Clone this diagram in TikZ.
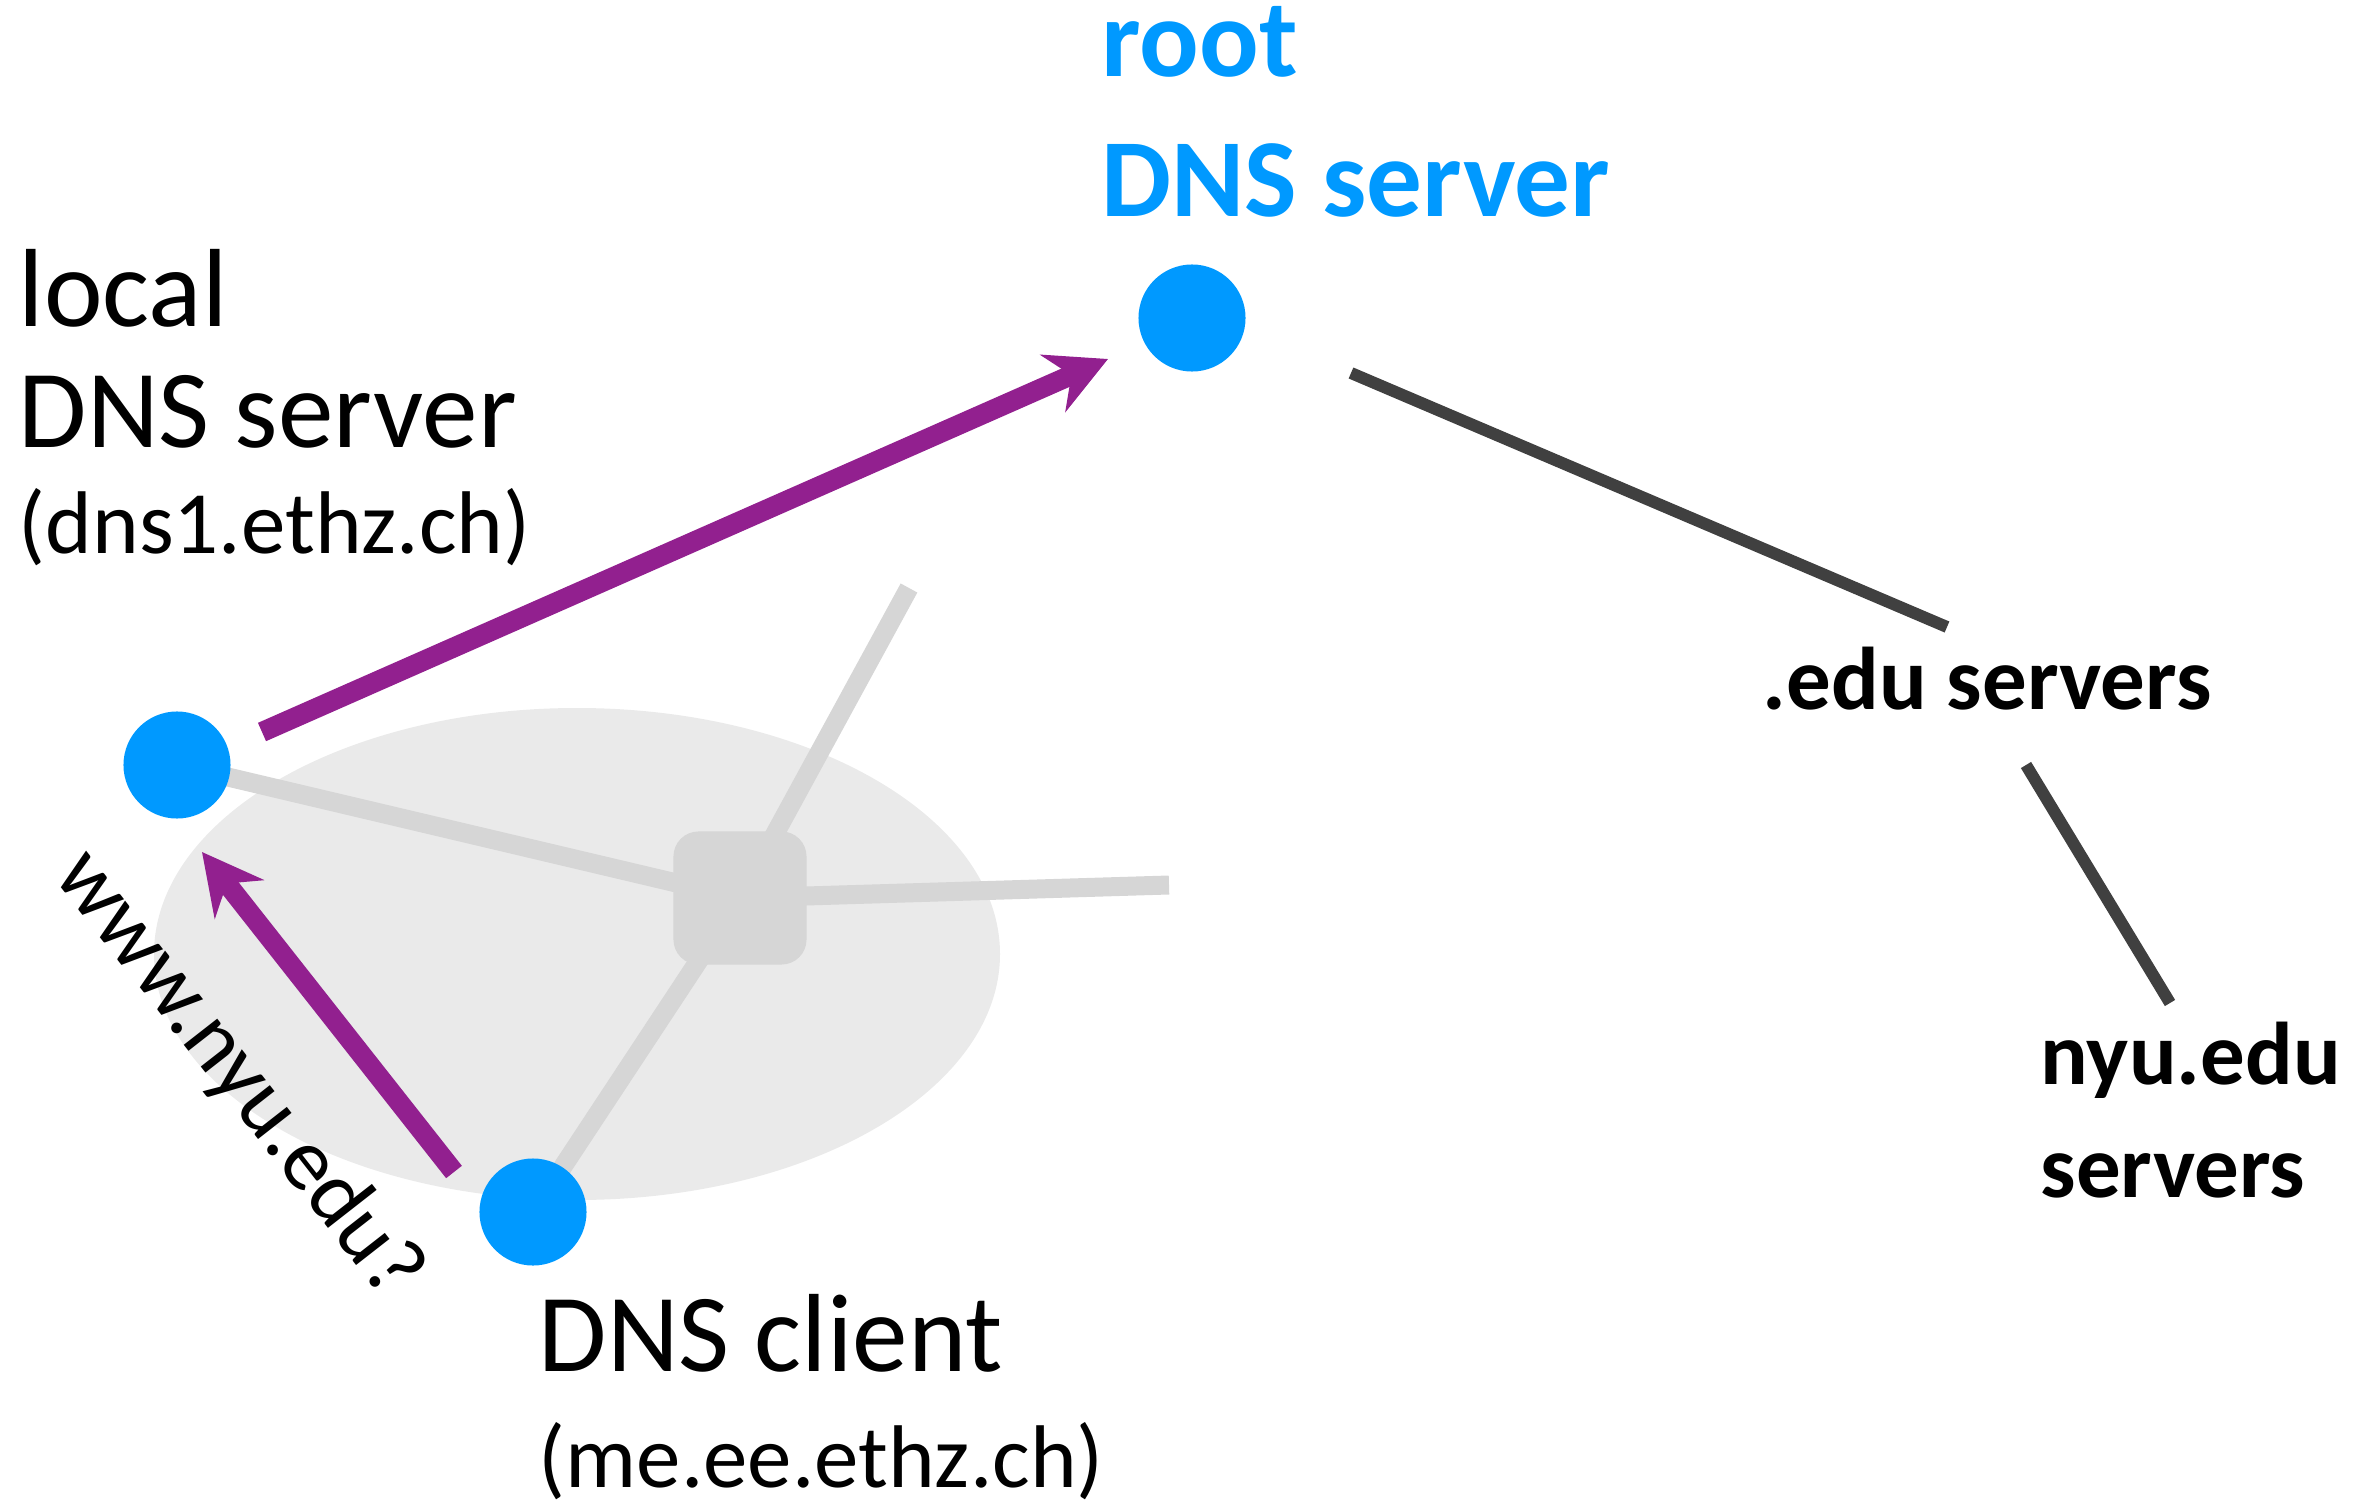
\documentclass[tikz,border=0pt]{standalone}
\usepackage{fontspec}
\setmainfont{Carlito}
\usetikzlibrary{arrows.meta,backgrounds}
\definecolor{dnsblue}{HTML}{0099FF}
\definecolor{querypurple}{HTML}{92208F}
\definecolor{linkgray}{HTML}{D6D6D6}
\definecolor{langray}{HTML}{EAEAEA}
\definecolor{treegray}{HTML}{404040}
\newcommand{\bigfont}{\fontsize{31.6}{40}\selectfont}
\newcommand{\smallfont}{\fontsize{25.3}{30.2}\selectfont}
\begin{document}
\begin{tikzpicture}[x=0.01cm, y=-0.01cm, line join=round,
		host/.style={circle, fill=dnsblue, minimum size=1.07cm, inner sep=0},
		link/.style={linkgray, line width=5.4pt},
		query/.style={querypurple, line width=5.7pt, -{Stealth[length=0.6cm, width=0.62cm, inset=0.2cm]}},
		tree/.style={treegray, line width=3.4pt},
		lbl/.style={inner sep=0, anchor=base west, align=left}]
			\useasboundingbox (0,0) rectangle (2375,1500);
			% hosts and switch
			\node (root) [host] at (1192,318) {};
			\node (local) [host] at (177,765) {};
			\node (client) [host] at (533,1212) {};
			\node (switch) [fill=linkgray, rounded corners=0.25cm, minimum size=1.33cm, inner sep=0] at (740,898) {};
			\coordinate (upend) at (909,588);
			\coordinate (rightend) at (1169,885);
			% labels (base = last line)
			\node (rootlbl) [lbl, text=dnsblue, font=\bigfont\bfseries] at (1101,217) {root\\DNS server};
			\node (localname) [lbl, font=\fontsize{31.6}{34.4}\selectfont] at (18,447) {local\\DNS server};
			\node (localaddr) [lbl, font=\smallfont] at (18,553) {(dns1.ethz.ch)};
			\node (clientname) [lbl, font=\bigfont] at (538,1371) {DNS client};
			\node (clientaddr) [lbl, font=\smallfont] at (538,1487) {(me.ee.ethz.ch)};
			\node (edu) [lbl, font=\smallfont\bfseries] at (1762,709) {.edu servers};
			\node (nyu) [lbl, font=\fontsize{25.3}{32}\selectfont\bfseries] at (2040,1197) {nyu.edu\\servers};
			\node (question) [font=\smallfont, rotate=-52, inner sep=0] at (238,1075) {www.nyu.edu?};
			% dns tree
			\coordinate (rootout) at (1351,373);
			\coordinate (eduin) at (1947,627);
			\coordinate (eduout) at (2026,765);
			\coordinate (nyuin) at (2170,1003);
			\draw[tree] (rootout)--(eduin);
			\draw[tree] (eduout)--(nyuin);
			% queries
			\coordinate (asktail) at (454,1172);
			\coordinate (asktip) at (202,852);
			\coordinate (fwdtail) at (262,732);
			\coordinate (fwdtip) at (1108,359);
			\draw[query] (asktail)--(asktip);
			\draw[query] (fwdtail)--(fwdtip);
			\begin{scope}[on background layer]
				\fill[langray] (577,954) ellipse (423 and 246);
				\draw[link] (local.center)--(switch.center);
				\draw[link] (client.center)--(switch.center);
				\draw[link] (switch.center)--(upend);
				\draw[link] (switch.center)--(rightend);
			\end{scope}
	\end{tikzpicture}
\end{document}
